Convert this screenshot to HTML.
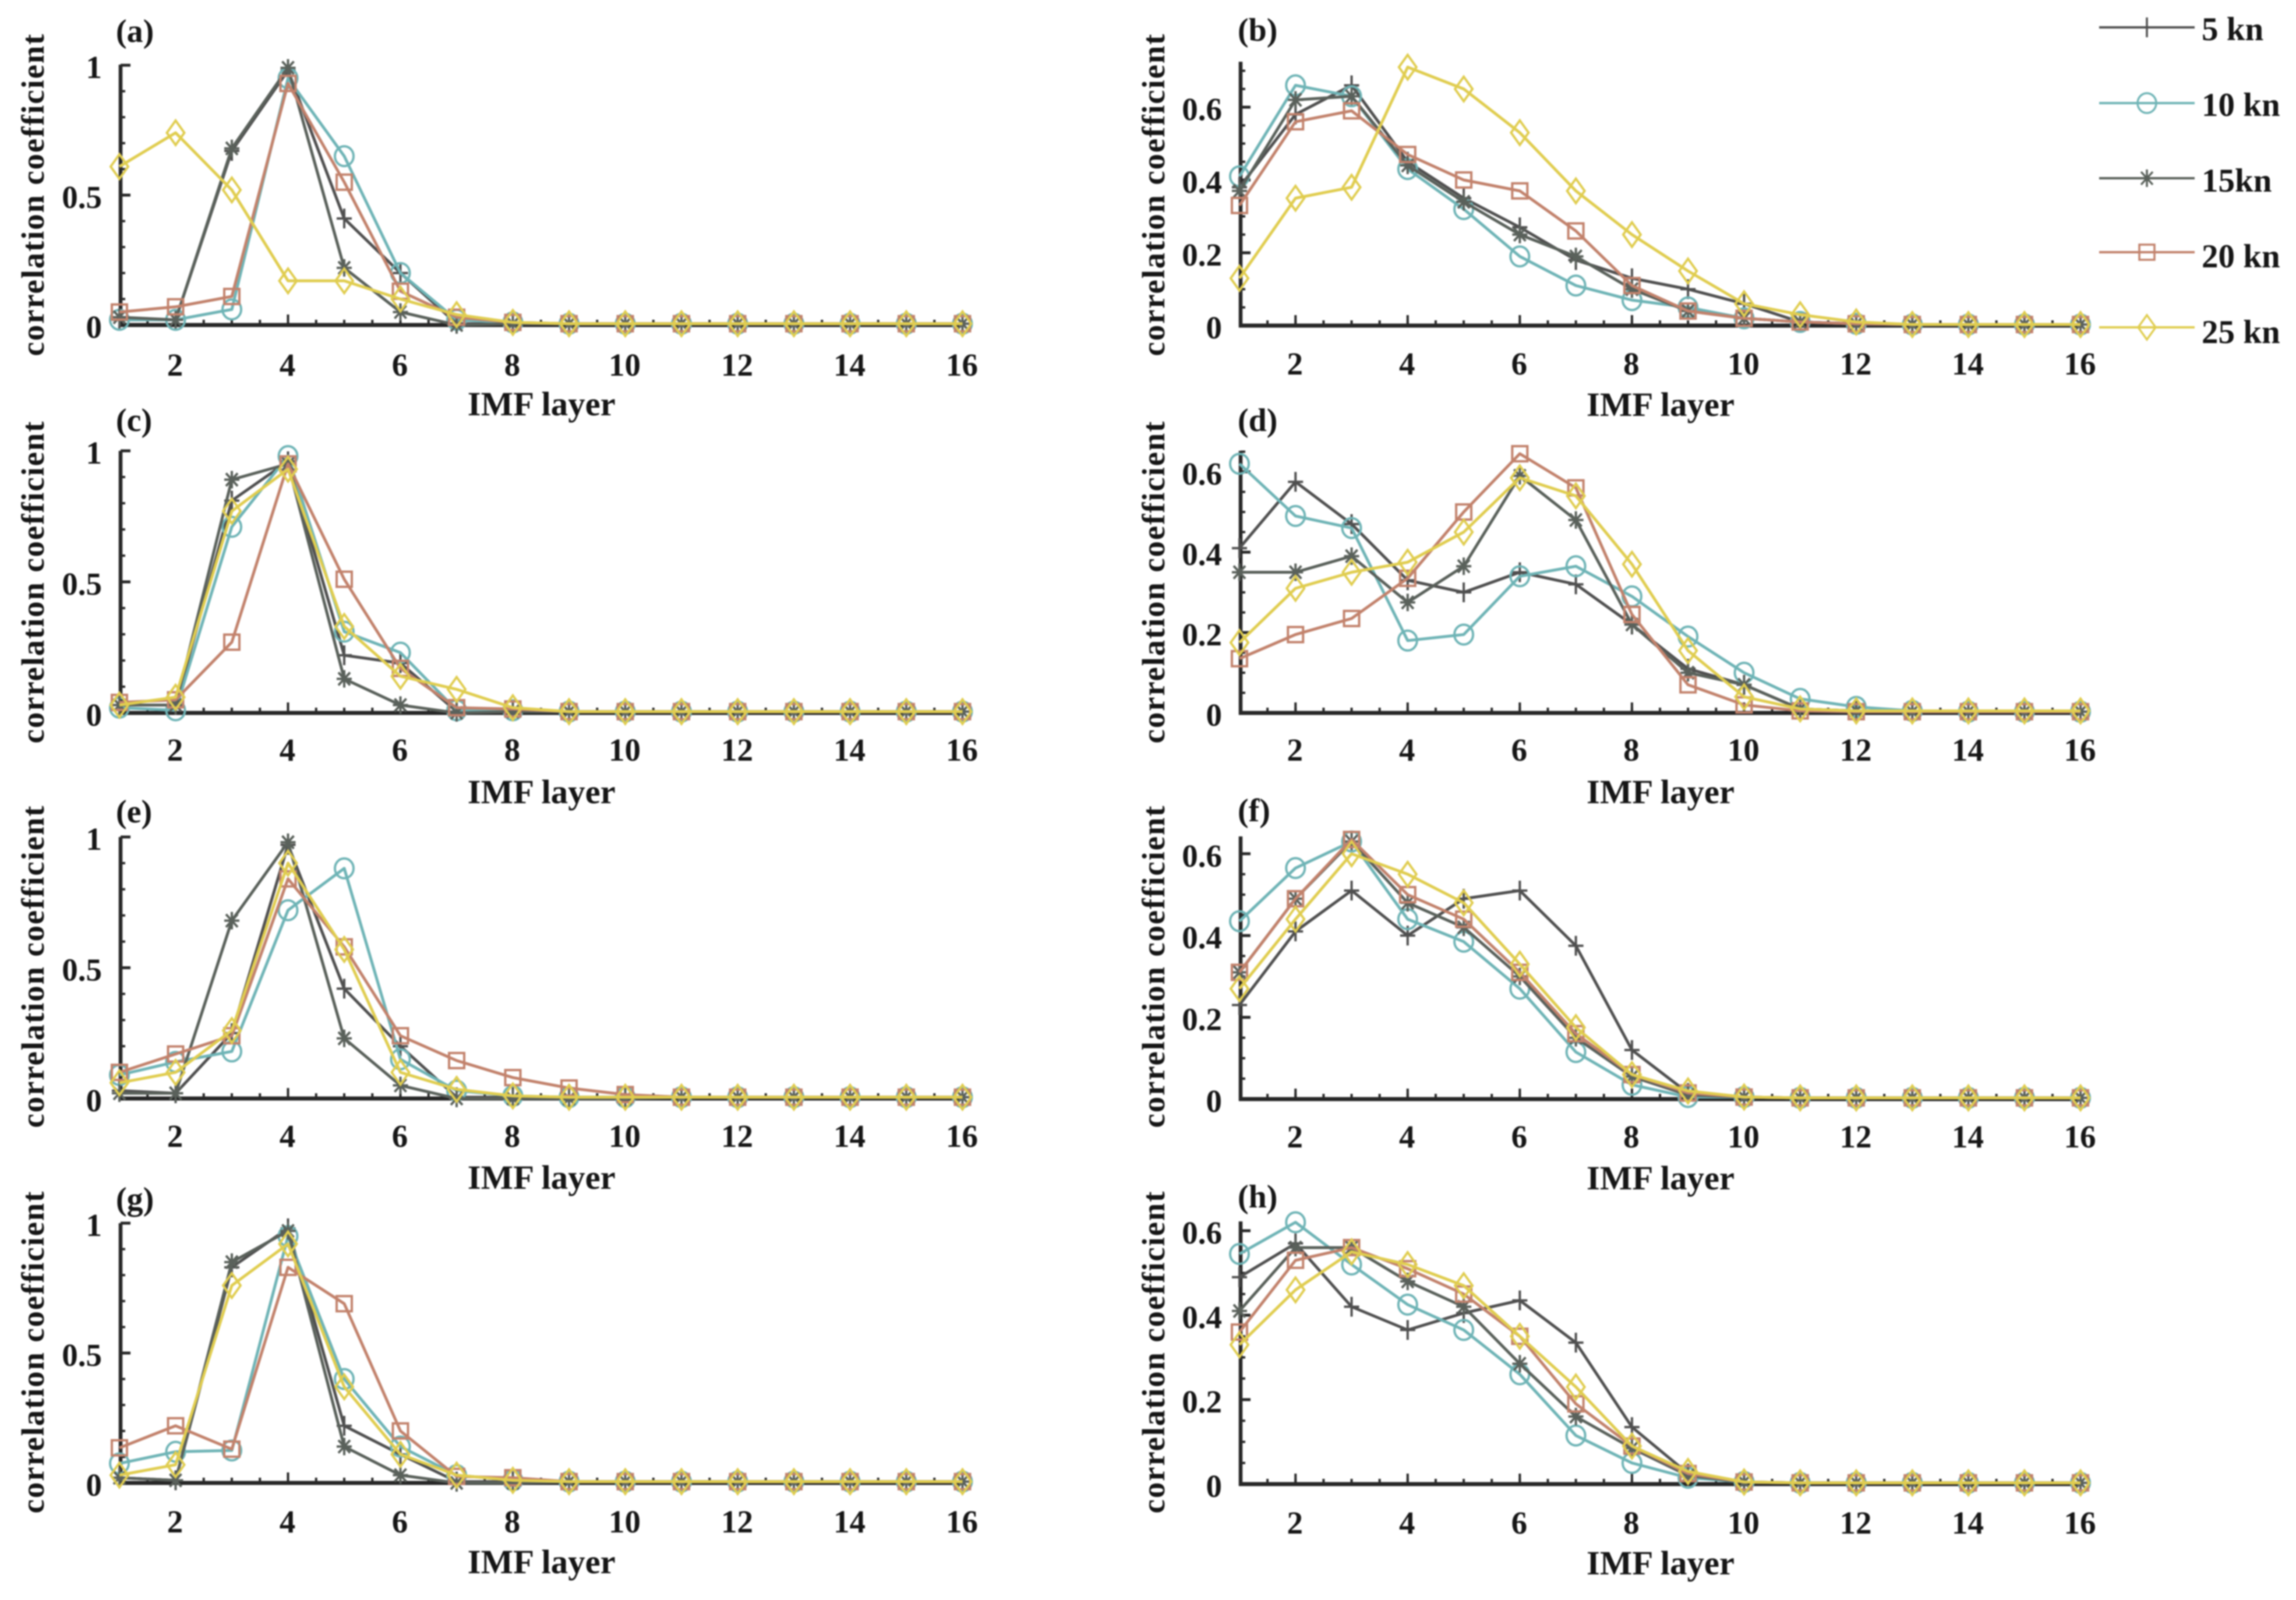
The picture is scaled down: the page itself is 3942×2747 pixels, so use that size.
<!DOCTYPE html>
<html lang="en">
<head>
<meta charset="utf-8">
<title>Correlation coefficient by IMF layer</title>
<style>
  html, body { margin: 0; padding: 0; background: #fff; }
  body { width: 3942px; height: 2747px; overflow: hidden; }
  #figure { display: block; filter: blur(1.3px); }
  #figure text { font-family: "Liberation Serif", serif; font-weight: bold; fill: #161616; }
</style>
</head>
<body>
<svg id="figure" xmlns="http://www.w3.org/2000/svg" width="3942" height="2747" viewBox="0 0 3942 2747"></svg>
<script>
// ---- Data: one array per panel and wind speed ----
const imfLayers = [1,2,3,4,5,6,7,8,9,10,11,12,13,14,15,16];
const xTickLabels = [2,4,6,8,10,12,14,16];
const leftYTickLabels = ['0','0.5','1'];
const rightYTickLabels = ['0','0.2','0.4','0.6'];
const seriesNames = ['5 kn','10 kn','15kn','20 kn','25 kn'];

const a5  = [.02,.02,.67,.98,.41,.20,.005,.005,.005,.005,.005,.005,.005,.005,.005,.005];
const a10 = [.02,.02,.06,.95,.65,.20,.02,.01,.005,.005,.005,.005,.005,.005,.005,.005];
const a15 = [.03,.02,.68,.99,.22,.05,0,.005,.005,.005,.005,.005,.005,.005,.005,.005];
const a20 = [.05,.07,.11,.93,.55,.13,.03,.01,.005,.005,.005,.005,.005,.005,.005,.005];
const a25 = [.61,.74,.52,.17,.17,.10,.04,.01,.005,.005,.005,.005,.005,.005,.005,.005];

const b5  = [.38,.58,.66,.45,.35,.27,.18,.13,.10,.06,.01,.005,.003,.003,.003,.003];
const b10 = [.41,.66,.63,.43,.32,.19,.11,.07,.05,.02,.01,.005,.003,.003,.003,.003];
const b15 = [.37,.62,.63,.44,.34,.25,.19,.10,.04,.02,.01,.005,.003,.003,.003,.003];
const b20 = [.33,.56,.59,.47,.40,.37,.26,.11,.04,.02,.01,.005,.003,.003,.003,.003];
const b25 = [.13,.35,.38,.71,.65,.53,.37,.25,.15,.06,.03,.01,.003,.003,.003,.003];

const c5  = [.03,.03,.81,.96,.22,.19,.005,.01,.005,.005,.005,.005,.005,.005,.005,.005];
const c10 = [.02,.01,.71,.98,.31,.23,.01,.01,.005,.005,.005,.005,.005,.005,.005,.005];
const c15 = [.03,.03,.89,.95,.13,.03,0,.005,.005,.005,.005,.005,.005,.005,.005,.005];
const c20 = [.04,.05,.27,.95,.51,.17,.02,.015,.005,.005,.005,.005,.005,.005,.005,.005];
const c25 = [.03,.06,.77,.93,.33,.14,.09,.02,.005,.005,.005,.005,.005,.005,.005,.005];

const d5  = [.41,.575,.47,.33,.30,.35,.32,.22,.11,.07,.01,.005,.003,.003,.003,.003];
const d10 = [.62,.49,.46,.18,.195,.34,.365,.29,.19,.10,.035,.015,.005,.003,.003,.003];
const d15 = [.35,.35,.39,.275,.365,.59,.48,.22,.10,.07,.01,.005,.003,.003,.003,.003];
const d20 = [.135,.195,.235,.335,.50,.645,.56,.245,.07,.02,.005,.003,.003,.003,.003,.003];
const d25 = [.175,.31,.35,.375,.45,.585,.54,.37,.155,.04,.01,.005,.005,.005,.005,.005];

const e5  = [.03,.02,.25,.97,.42,.20,.005,.005,.005,.005,.005,.005,.005,.005,.005,.005];
const e10 = [.09,.14,.18,.72,.88,.15,.03,.01,.005,.005,.005,.005,.005,.005,.005,.005];
const e15 = [.02,.02,.68,.98,.23,.05,0,0,0,0,.005,.005,.005,.005,.005,.005];
const e20 = [.10,.17,.24,.84,.58,.24,.145,.08,.04,.015,.005,.005,.005,.005,.005,.005];
const e25 = [.06,.10,.26,.90,.57,.10,.035,.01,.005,.005,.005,.005,.005,.005,.005,.005];

const f5  = [.23,.41,.51,.40,.49,.51,.375,.12,.015,.005,.003,.003,.003,.003,.003,.003];
const f10 = [.435,.565,.63,.44,.385,.27,.115,.035,.005,.005,.003,.003,.003,.003,.003,.003];
const f15 = [.31,.49,.63,.48,.42,.30,.15,.055,.01,.005,.003,.003,.003,.003,.003,.003];
const f20 = [.31,.49,.635,.50,.44,.31,.16,.06,.015,.005,.003,.003,.003,.003,.003,.003];
const f25 = [.27,.44,.60,.55,.48,.33,.175,.06,.02,.005,.003,.003,.003,.003,.003,.003];

const g5  = [.02,.01,.83,.98,.22,.11,.005,.005,.005,.005,.005,.005,.005,.005,.005,.005];
const g10 = [.075,.12,.125,.95,.40,.14,.03,.01,.005,.005,.005,.005,.005,.005,.005,.005];
const g15 = [.02,.01,.85,.97,.14,.03,0,0,.005,.005,.005,.005,.005,.005,.005,.005];
const g20 = [.135,.22,.13,.83,.69,.20,.025,.02,.005,.005,.005,.005,.005,.005,.005,.005];
const g25 = [.03,.07,.76,.92,.37,.11,.03,.01,.005,.005,.005,.005,.005,.005,.005,.005];

const h5  = [.49,.57,.42,.365,.405,.435,.335,.135,.025,.005,.003,.003,.003,.003,.003,.003];
const h10 = [.545,.62,.52,.425,.365,.26,.115,.05,.015,.005,.003,.003,.003,.003,.003,.003];
const h15 = [.41,.56,.56,.48,.42,.285,.16,.085,.02,.005,.003,.003,.003,.003,.003,.003];
const h20 = [.36,.53,.56,.51,.45,.35,.19,.09,.025,.005,.003,.003,.003,.003,.003,.003];
const h25 = [.33,.46,.55,.52,.47,.35,.23,.09,.03,.005,.003,.003,.003,.003,.003,.003];

// ---- Layout (pixels), kept apart from the data ----
const panels = [
  {id:'a', col:0, y0:558,  scale:446, top:111,  labelY:72,   titleY:335,  xLabelOff:87, series:[a5,a10,a15,a20,a25]},
  {id:'b', col:1, y0:559,  scale:625, top:106,  labelY:70,   titleY:335,  xLabelOff:84, series:[b5,b10,b15,b20,b25]},
  {id:'c', col:0, y0:1224, scale:450, top:774,  labelY:740,  titleY:1000, xLabelOff:82, series:[c5,c10,c15,c20,c25]},
  {id:'d', col:1, y0:1224, scale:690, top:774,  labelY:740,  titleY:1000, xLabelOff:82, series:[d5,d10,d15,d20,d25]},
  {id:'e', col:0, y0:1886, scale:449, top:1437, labelY:1412, titleY:1660, xLabelOff:83, series:[e5,e10,e15,e20,e25]},
  {id:'f', col:1, y0:1887, scale:702, top:1436, labelY:1410, titleY:1660, xLabelOff:83, series:[f5,f10,f15,f20,f25]},
  {id:'g', col:0, y0:2546, scale:446, top:2100, labelY:2077, titleY:2322, xLabelOff:85, series:[g5,g10,g15,g20,g25]},
  {id:'h', col:1, y0:2548, scale:725, top:2097, labelY:2073, titleY:2322, xLabelOff:85, series:[h5,h10,h15,h20,h25]}
];
const columns = [
  {x1:205,  step:96.5,  tickRight:175,  titleX:75,   labelX:199,  minorY:0.1,  yLabels:leftYTickLabels},
  {x1:2128, step:96.27, tickRight:2098, titleX:1999, labelX:2125, minorY:0.05, yLabels:rightYTickLabels}
];
const seriesColors = ['#505050','#6fb4b6','#5a615b','#c2826c','#e0cd50'];
const markerKinds = ['plus','circle','star','square','diamond'];
const axisColor = '#282828';
const NS = 'http://www.w3.org/2000/svg';
const figure = document.getElementById('figure');

function make(tag, attrs, parent) {
  const node = document.createElementNS(NS, tag);
  for (const key in attrs) node.setAttribute(key, attrs[key]);
  parent.appendChild(node);
  return node;
}

function markerPath(kind, cx, cy) {
  if (kind === 'plus') return `M${cx-13} ${cy}H${cx+13}M${cx} ${cy-17}V${cy+17}`;
  if (kind === 'star') return `M${cx-13} ${cy}H${cx+13}M${cx} ${cy-15}V${cy+15}M${cx-10} ${cy-11}L${cx+10} ${cy+11}M${cx-10} ${cy+11}L${cx+10} ${cy-11}`;
  if (kind === 'square') return `M${cx-13} ${cy-13}H${cx+13}V${cy+13}H${cx-13}Z`;
  if (kind === 'diamond') return `M${cx} ${cy-21}L${cx+15} ${cy}L${cx} ${cy+21}L${cx-15} ${cy}Z`;
  return `M${cx-16} ${cy}A16 17 0 1 0 ${cx+16} ${cy}A16 17 0 1 0 ${cx-16} ${cy}Z`;
}

function drawPanel(panel) {
  const col = columns[panel.col];
  const xAt = layer => col.x1 + (layer - 1) * col.step;
  const yAt = value => panel.y0 - value * panel.scale;
  const axisX = xAt(1) + 2;
  const axisEnd = xAt(16);

  const group = make('g', {}, figure);
  
  

  const label = make('text', {x: col.labelX, y: panel.labelY, 'font-size': 56}, group);
  label.textContent = '(' + panel.id + ')';
  
  

  const yTitle = make('text', {
    x: 0, y: 0, 'font-size': 55, 'text-anchor': 'middle',
    textLength: 553, lengthAdjust: 'spacing',
    transform: `translate(${col.titleX} ${panel.titleY}) rotate(-90)`
  }, group);
  yTitle.textContent = 'correlation coefficient';
  
  

  const xTitle = make('text', {
    x: (xAt(1) + axisEnd) / 2 + 1, y: panel.y0 + 155, 'font-size': 58,
    'text-anchor': 'middle', textLength: 254, lengthAdjust: 'spacingAndGlyphs'
  }, group);
  xTitle.textContent = 'IMF layer';
  
  

  const yAxis = make('line', {x1: axisX, x2: axisX, y1: panel.top, y2: panel.y0 + 3, stroke: axisColor, 'stroke-width': 6.5}, group);
  
  

  const xAxis = make('line', {x1: axisX - 3, x2: axisEnd, y1: panel.y0, y2: panel.y0, stroke: axisColor, 'stroke-width': 7}, group);
  
  

  // minor ticks on x
  for (let layer = 1.5; layer <= 16; layer += 0.5) {
    const tick = make('line', {x1: xAt(layer), x2: xAt(layer), y1: panel.y0, y2: panel.y0 - 9, stroke: axisColor, 'stroke-width': 4}, group);
    
    
  }
  // major ticks and labels on x
  xTickLabels.forEach(value => {
    const tick = make('line', {x1: xAt(value), x2: xAt(value), y1: panel.y0, y2: panel.y0 - 18, stroke: axisColor, 'stroke-width': 4}, group);
    
    
    const text = make('text', {x: xAt(value) - 1, y: panel.y0 + panel.xLabelOff, 'font-size': 55, 'text-anchor': 'middle'}, group);
    text.textContent = value;
    
    
  });
  // minor ticks on y
  const yMax = (panel.y0 - panel.top) / panel.scale;
  for (let i = 1; i * col.minorY <= yMax; i++) {
    const py = yAt(i * col.minorY);
    const tick = make('line', {x1: axisX, x2: axisX + 8, y1: py, y2: py, stroke: axisColor, 'stroke-width': 4}, group);
    
    
  }
  // major ticks and labels on y
  col.yLabels.forEach(value => {
    const py = yAt(parseFloat(value));
    const tick = make('line', {x1: axisX, x2: axisX + 17, y1: py, y2: py, stroke: axisColor, 'stroke-width': 5}, group);
    
    
    const text = make('text', {x: col.tickRight, y: py + 22, 'font-size': 55, 'text-anchor': 'end'}, group);
    text.textContent = value;
    
    
  });

  // series
  panel.series.forEach((values, s) => {
    const seriesGroup = make('g', {stroke: seriesColors[s], fill: 'none'}, group);
    
    
    const pts = values.map((v, i) => xAt(imfLayers[i]) + ',' + yAt(v)).join(' ');
    const line = make('polyline', {points: pts, 'stroke-width': 5, 'stroke-linejoin': 'round'}, seriesGroup);
    
    
    values.forEach((v, i) => {
      const mark = make('path', {d: markerPath(markerKinds[s], xAt(imfLayers[i]), yAt(v)), 'stroke-width': 4}, seriesGroup);
      
      
    });
  });
}

function drawLegend() {
  const rowLineY = [47, 177, 306, 433, 562];
  const rowTextY = [69, 199, 329, 459, 589];
  const group = make('g', {}, figure);
  
  
  seriesNames.forEach((name, s) => {
    const entry = make('g', {}, group);
    
    
    const line = make('line', {x1: 3604, x2: 3768, y1: rowLineY[s], y2: rowLineY[s], stroke: seriesColors[s], 'stroke-width': 4}, entry);
    
    
    const mark = make('path', {d: markerPath(markerKinds[s], 3686, rowLineY[s]), stroke: seriesColors[s], fill: 'none', 'stroke-width': 3.5}, entry);
    
    
    const text = make('text', {x: 3780, y: rowTextY[s], 'font-size': 57}, entry);
    text.textContent = name;
    
    
  });
}

panels.forEach(drawPanel);
drawLegend();
</script>
</body>
</html>
